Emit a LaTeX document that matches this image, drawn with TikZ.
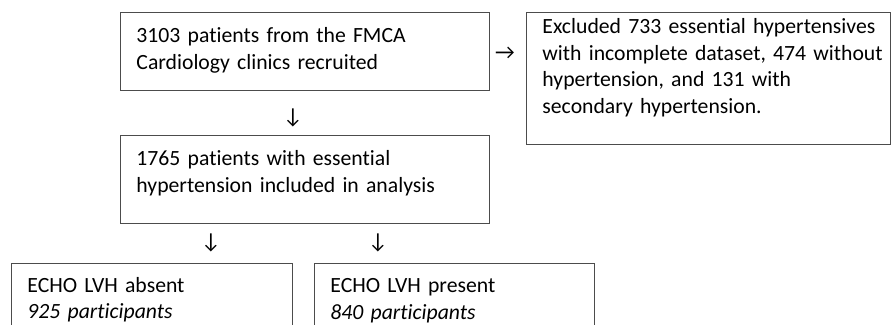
\documentclass[tikz,border=0pt]{standalone}
\usepackage{fontspec}
\setmainfont[Ligatures=NoCommon]{Carlito}
\usetikzlibrary{positioning}

\newcommand{\flowfont}{\fontsize{21.7pt}{26.6pt}\selectfont}

\tikzset{
	flowbox/.style={draw=black!70, line width=0.9pt, anchor=north west, align=left,
		inner xsep=16pt, inner ysep=0pt, text width=#1, font=\flowfont},
	arrowmark/.style={inner sep=0pt, font=\flowfont}
}

\begin{document}
\begin{tikzpicture}[x=1pt, y=-1pt]
		\useasboundingbox (0,0) rectangle (891,324);
		\clip (0,0) rectangle (891,324);
		% boxes
		\node[flowbox=337pt, text height=30pt, text depth=48pt] (recruited) at (120,12)
			{\mbox{3103 patients from the FMCA}\\\mbox{Cardiology clinics recruited}};
		\node[flowbox=331.5pt, text height=21pt, text depth=111pt] (excluded) at (526,12)
			{\mbox{Excluded 733 essential hypertensives}\\\mbox{with incomplete dataset, 474 without}\\\mbox{hypertension, and 131 with}\\\mbox{secondary hypertension.}};
		\node[flowbox=337pt, text height=30pt, text depth=58pt] (included) at (120,135)
			{\mbox{1765 patients with essential}\\\mbox{hypertension included in analysis}};
		\node[flowbox=249pt, text height=28.7pt, text depth=60pt] (lvhabsent) at (11,263)
			{ECHO LVH absent\\\textit{925 participants}};
		\node[flowbox=248pt, text height=29pt, text depth=60pt] (lvhpresent) at (314,263)
			{ECHO LVH present\\\textit{840 participants}};
		% arrows
		\node[arrowmark] (toexcluded) at (505,53) {→};
		\node[arrowmark] (toincluded) at (293,118) {↓};
		\node[arrowmark] (toabsent) at (211,243) {↓};
		\node[arrowmark] (topresent) at (378,243) {↓};
	\end{tikzpicture}
\end{document}
